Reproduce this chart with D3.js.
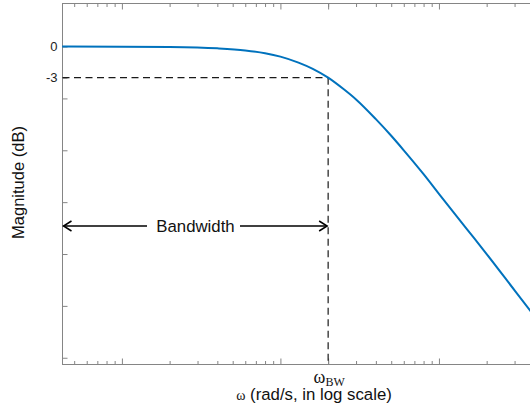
<!DOCTYPE html>
<html>
<head>
<meta charset="utf-8">
<script src="https://cdn.jsdelivr.net/npm/d3@7"></script>
<style>
  body { margin: 0; background: #fff; }
  svg { display: block; overflow: hidden; }
  .axis path, .axis line { stroke: #858585; }
  .axis text { fill: #222; font-family: "Liberation Sans", Arial, sans-serif; font-size: 13px; }
</style>
</head>
<body>
<div id="chart"></div>
<script>
// frequency samples (rad/s) and magnitude (dB)
var omega = [0.042, 0.1, 0.2, 0.4, 0.6, 0.8, 1.0, 1.3, 1.6, 2.0, 2.5, 3, 4, 5, 6, 8, 10, 15, 20, 30, 45];
var magDb = [0, -0.01, -0.04, -0.17, -0.37, -0.64, -0.97, -1.55, -2.15, -3.0, -4.1, -5.1, -7.0, -8.6, -10.0, -12.3, -14.2, -17.6, -20.0, -23.5, -27.0];

var omegaBW = 2;          // bandwidth frequency
var cutoffDb = -3;        // -3 dB level
var yTicks = [-30, -25, -20, -15, -10, -5, -3, 0];
var yTickLabels = {"0": "0", "-3": "-3"};
var xMajor = [0.1, 1, 10];
var xMinor = [0.05, 0.06, 0.07, 0.08, 0.09, 0.2, 0.3, 0.4, 0.5, 0.6, 0.7, 0.8, 0.9,
              2, 3, 4, 5, 6, 7, 8, 9, 20, 30, 40];

draw_bode();
function draw_bode(){
  var W = 530, H = 416;
  var mLeft = 62.5, mTop = 3.5, mBottom = 364.5, mRight = 540;

  var svg = d3.select("#chart").append("svg")
      .attr("width", W)
      .attr("height", H);

  var x = d3.scaleLog().domain([0.0422, 43.4]).range([mLeft, mRight]);
  var y = d3.scaleLinear().domain([4.15, -30.65]).range([mTop, mBottom]);

  // box
  svg.append("rect")
      .attr("x", mLeft).attr("y", mTop)
      .attr("width", mRight - mLeft).attr("height", mBottom - mTop)
      .attr("fill", "none").attr("stroke", "#858585").attr("stroke-width", 1);

  // x ticks, bottom and top, pointing inside
  function xAxes(vals, len){
    svg.append("g").attr("class", "axis")
      .attr("transform", "translate(0," + mBottom + ")")
      .call(d3.axisBottom(x).tickValues(vals).tickSize(-len).tickSizeOuter(0).tickFormat(""))
      .select(".domain").remove();
    svg.append("g").attr("class", "axis")
      .attr("transform", "translate(0," + mTop + ")")
      .call(d3.axisTop(x).tickValues(vals).tickSize(-len).tickSizeOuter(0).tickFormat(""))
      .select(".domain").remove();
  }
  xAxes(xMajor.concat([omegaBW]), 6);
  xAxes(xMinor, 3.5);

  // y ticks
  var yAxis = svg.append("g").attr("class", "axis")
      .attr("transform", "translate(" + mLeft + ",0)")
      .call(d3.axisLeft(y).tickValues(yTicks).tickSize(-5).tickPadding(5)
        .tickFormat(function(d){ return yTickLabels[String(d)] || ""; }));
  yAxis.select(".domain").remove();

  // dashed guide lines
  svg.append("line")
      .attr("x1", mLeft).attr("x2", x(omegaBW))
      .attr("y1", y(cutoffDb)).attr("y2", y(cutoffDb))
      .attr("stroke", "#1a1a1a").attr("stroke-width", 1.2).attr("stroke-dasharray", "7,4.5");
  svg.append("line")
      .attr("x1", x(omegaBW)).attr("x2", x(omegaBW))
      .attr("y1", y(cutoffDb)).attr("y2", mBottom)
      .attr("stroke", "#1a1a1a").attr("stroke-width", 1.2).attr("stroke-dasharray", "7,4.5");

  // magnitude curve
  var pts = omega.map(function(d, i){ return [d, magDb[i]]; });
  svg.append("path")
      .datum(pts)
      .attr("fill", "none")
      .attr("stroke", "#0072BD")
      .attr("stroke-width", 2)
      .attr("d", d3.line().x(function(d){ return x(d[0]); }).y(function(d){ return y(d[1]); })
        .curve(d3.curveMonotoneX));

  // bandwidth arrow
  var ay = 226, ax1 = mLeft + 1, ax2 = x(omegaBW) - 1;
  var bw = svg.append("g").attr("stroke", "#000").attr("stroke-width", 1.5).attr("fill", "none");
  bw.append("line").attr("x1", ax1).attr("x2", 147).attr("y1", ay).attr("y2", ay);
  bw.append("line").attr("x1", 240).attr("x2", ax2).attr("y1", ay).attr("y2", ay);
  bw.append("path").attr("d", "M" + (ax1 + 8) + "," + (ay - 5) + "L" + ax1 + "," + ay + "L" + (ax1 + 8) + "," + (ay + 5));
  bw.append("path").attr("d", "M" + (ax2 - 8) + "," + (ay - 5) + "L" + ax2 + "," + ay + "L" + (ax2 - 8) + "," + (ay + 5));
  svg.append("text")
      .attr("x", 195.5).attr("y", ay + 6)
      .attr("text-anchor", "middle")
      .attr("font-family", "Liberation Sans, Arial, sans-serif")
      .attr("font-size", 16.8)
      .attr("fill", "#111")
      .text("Bandwidth");

  // omega_BW tick label
  var wl = svg.append("text")
      .attr("x", x(omegaBW) + 1).attr("y", 383)
      .attr("text-anchor", "middle")
      .attr("font-family", "Liberation Serif, Times New Roman, serif")
      .attr("fill", "#111");
  wl.append("tspan").attr("font-size", 18).text("ω");
  wl.append("tspan").attr("font-size", 12).attr("dy", 3).text("BW");

  // x label
  var xl = svg.append("text")
      .attr("x", 314).attr("y", 399.5)
      .attr("text-anchor", "middle")
      .attr("font-family", "Liberation Sans, Arial, sans-serif")
      .attr("font-size", 16.8)
      .attr("fill", "#111");
  xl.append("tspan").attr("font-family", "Liberation Serif, Times New Roman, serif").attr("font-size", 14).text("ω");
  xl.append("tspan").text(" (rad/s, in log scale)");

  // y label
  svg.append("text")
      .attr("transform", "translate(24,182.5) rotate(-90)")
      .attr("text-anchor", "middle")
      .attr("font-family", "Liberation Sans, Arial, sans-serif")
      .attr("font-size", 16.5)
      .attr("fill", "#111")
      .text("Magnitude (dB)");
}
</script>
</body>
</html>
